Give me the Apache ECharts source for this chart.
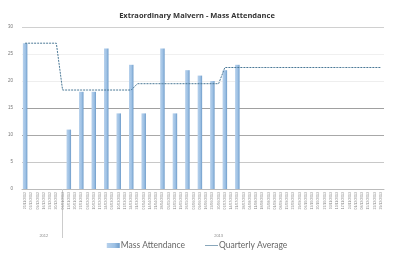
<!DOCTYPE html>
<html>
<head>
    <meta charset="utf-8">
    <title>Mass Attendance</title>
    <script src="https://cdn.jsdelivr.net/npm/echarts@6/dist/echarts.min.js"></script>
    <style>
        html, body { margin: 0; padding: 0; background: #fff; }
    </style>
</head>
<body>
    <div id="main" style="width: 394px;height:272px;"></div>
    <script type="text/javascript">
        // week labels (last 6 weeks of 2012, then 52 weeks of 2013)
        var weeks = [
            '25/11/2012', '02/12/2012', '09/12/2012', '16/12/2012', '23/12/2012', '30/12/2012',
            '06/01/2013', '13/01/2013', '20/01/2013', '27/01/2013', '03/02/2013', '10/02/2013',
            '17/02/2013', '24/02/2013', '03/03/2013', '10/03/2013', '17/03/2013', '24/03/2013',
            '31/03/2013', '07/04/2013', '14/04/2013', '21/04/2013', '28/04/2013', '05/05/2013',
            '12/05/2013', '19/05/2013', '26/05/2013', '02/06/2013', '09/06/2013', '16/06/2013',
            '23/06/2013', '30/06/2013', '07/07/2013', '14/07/2013', '21/07/2013', '28/07/2013',
            '04/08/2013', '11/08/2013', '18/08/2013', '25/08/2013', '01/09/2013', '08/09/2013',
            '15/09/2013', '22/09/2013', '29/09/2013', '06/10/2013', '13/10/2013', '20/10/2013',
            '27/10/2013', '03/11/2013', '10/11/2013', '17/11/2013', '24/11/2013', '01/12/2013',
            '08/12/2013', '15/12/2013', '22/12/2013', '29/12/2013'
        ];

        var attendance = [
            27, null, null, null, null, null,
            null, 11, null, 18, null, 18,
            null, 26, null, 14, null, 23,
            null, 14, null, null, 26, null,
            14, null, 22, null, 21, null,
            20, null, 22, null, 23, null,
            null, null, null, null, null, null,
            null, null, null, null, null, null,
            null, null, null, null, null, null,
            null, null, null, null
        ];

        var quarterly = [
            27, 27, 27, 27, 27, 27,
            18.33, 18.33, 18.33, 18.33, 18.33, 18.33,
            18.33, 18.33, 18.33, 18.33, 18.33, 18.33,
            19.5, 19.5, 19.5, 19.5, 19.5, 19.5,
            19.5, 19.5, 19.5, 19.5, 19.5, 19.5,
            19.5, 19.5, 22.5, 22.5, 22.5, 22.5,
            22.5, 22.5, 22.5, 22.5, 22.5, 22.5,
            22.5, 22.5, 22.5, 22.5, 22.5, 22.5,
            22.5, 22.5, 22.5, 22.5, 22.5, 22.5,
            22.5, 22.5, 22.5, 22.5
        ];

        // year groups: label shown at index, separator at index
        var yearLabels = { 3: '2012', 31: '2013' };
        var yearBreaks = [6];

        var myChart = echarts.init(document.getElementById('main'));

        var option = {
            animation: false,
            title: {
                text: 'Extraordinary Malvern - Mass Attendance',
                left: 'center',
                top: 7,
                textStyle: {
                    fontFamily: 'Open Sans',
                    fontSize: 7.5,
                    fontWeight: 'bold',
                    color: '#333'
                }
            },
            legend: {
                bottom: 17,
                left: 'center',
                itemGap: 20,
                itemWidth: 13,
                itemHeight: 5,
                textStyle: {
                    fontFamily: 'Lato',
                    fontSize: 8.5,
                    color: '#666',
                    padding: [0, 0, 0, -4]
                },
                data: [
                    { name: 'Mass Attendance', icon: 'rect' },
                    { name: 'Quarterly Average', icon: 'path://M0,0 H40 V2 H0 Z' }
                ]
            },
            grid: {
                left: 22,
                right: 10,
                top: 27,
                bottom: 83
            },
            xAxis: [{
                type: 'category',
                data: weeks,
                axisLine: { lineStyle: { color: '#bbb' } },
                axisTick: { show: false },
                axisLabel: {
                    interval: 0,
                    rotate: 90,
                    fontSize: 3.5,
                    color: '#888',
                    margin: 3
                }
            }, {
                type: 'category',
                data: weeks,
                position: 'bottom',
                axisLine: { show: false },
                axisTick: {
                    show: true,
                    length: 49,
                    alignWithLabel: true,
                    interval: function (index) {
                        return yearBreaks.indexOf(index) >= 0;
                    },
                    lineStyle: { color: '#ccc' }
                },
                axisLabel: {
                    interval: 0,
                    margin: 45,
                    fontSize: 4,
                    color: '#888',
                    formatter: function (value, index) {
                        return yearLabels[index] || '';
                    }
                }
            }],
            yAxis: {
                type: 'value',
                min: 0,
                max: 30,
                interval: 5,
                axisLine: { show: false },
                axisTick: { show: false },
                axisLabel: {
                    fontSize: 4.5,
                    color: '#777',
                    margin: 9
                },
                splitLine: {
                    lineStyle: {
                        color: ['#ccc', '#c8c8c8', '#a8a8a8', '#a0a0a0', '#eee', '#f0f0f0', '#d0d0d0'],
                        width: 1
                    }
                }
            },
            series: [{
                name: 'Mass Attendance',
                type: 'bar',
                data: attendance,
                barWidth: 4.5,
                itemStyle: {
                    color: {
                        type: 'linear',
                        x: 0, y: 0, x2: 1, y2: 0,
                        colorStops: [
                            { offset: 0, color: '#b7d1ec' },
                            { offset: 0.6, color: '#9cc0e4' },
                            { offset: 1, color: '#6f9cc9' }
                        ]
                    }
                }
            }, {
                name: 'Quarterly Average',
                type: 'line',
                data: quarterly,
                symbol: 'none',
                lineStyle: {
                    color: '#4a7896',
                    width: 1,
                    type: [2, 1]
                },
                itemStyle: { color: '#4a7896' }
            }]
        };

        myChart.setOption(option);
    </script>
</body>
</html>
